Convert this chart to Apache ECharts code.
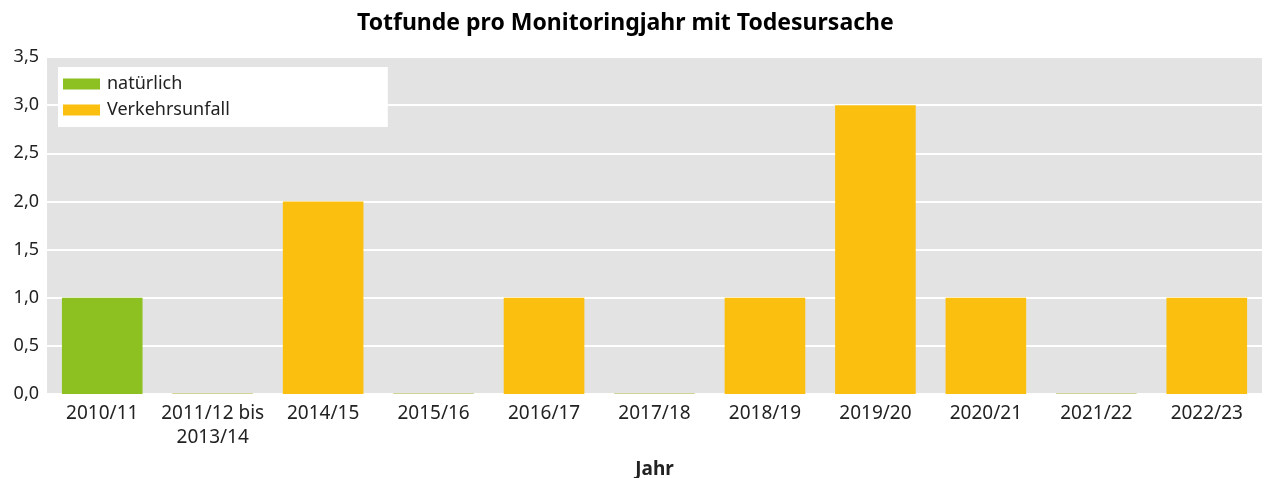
<!DOCTYPE html>
<html><head><meta charset="utf-8">
<script src="https://cdn.jsdelivr.net/npm/echarts@6/dist/echarts.min.js"></script>
<style>html,body{margin:0;padding:0;background:#fff}#c{width:1266px;height:478px}</style>
</head><body><div id="c"></div>
<script>
var categories = ['2010/11','2011/12 bis\n2013/14','2014/15','2015/16','2016/17','2017/18','2018/19','2019/20','2020/21','2021/22','2022/23'];
var natuerlich = [1,0,0,0,0,0,0,0,0,0,0];
var verkehrsunfall = [0,0,2,0,1,0,1,3,1,0,1];
var yTicks = [0,0.5,1,1.5,2,2.5,3,3.5];

var FONT = '"Noto Sans", sans-serif';
var natData = categories.map(function(c,i){
  if (natuerlich[i] > 0) return natuerlich[i];
  if (natuerlich[i] + verkehrsunfall[i] === 0) return {value:0, itemStyle:{color:'#d3d394'}};
  return null;
});
var verData = verkehrsunfall.map(function(v){ return v > 0 ? v : null; });

var chart = echarts.init(document.getElementById('c'));
chart.setOption({
  animation:false,
  title:{text:'Totfunde pro Monitoringjahr mit Todesursache', left:352, top:7,
    textStyle:{fontFamily:FONT, fontSize:23, fontWeight:'bold', color:'#000'}},
  legend:{orient:'vertical', left:58, top:67, backgroundColor:'#fff', borderRadius:0,
    padding:[8,158,8,5], itemGap:8, itemWidth:37, itemHeight:11,
    icon:'rect',
    textStyle:{fontFamily:FONT, fontSize:18, color:'#222', padding:[0,0,0,2]},
    data:['natürlich','Verkehrsunfall']},
  grid:{left:47, right:4, top:57, bottom:84, show:true, backgroundColor:'#e3e3e3', borderWidth:0,
    outerBoundsMode:'none', containLabel:false},
  xAxis:{type:'category', data:categories,
    axisLine:{show:true, lineStyle:{color:'#fff', width:2}}, axisTick:{show:false},
    axisLabel:{fontFamily:FONT, fontSize:19, color:'#222', margin:8, lineHeight:24, interval:0},
    name:'Jahr', nameLocation:'middle', nameGap:66,
    nameTextStyle:{fontFamily:FONT, fontSize:19, fontWeight:'bold', color:'#222'}},
  yAxis:{type:'value', min:yTicks[0], max:yTicks[yTicks.length-1], interval:0.5,
    axisLine:{show:false}, axisTick:{show:false},
    splitLine:{lineStyle:{color:'#fff', width:2}},
    axisLabel:{fontFamily:FONT, fontSize:18, color:'#222', margin:8,
      formatter:function(v){return v.toFixed(1).replace('.',',');}}},
  series:[
    {name:'natürlich', type:'bar', stack:'a', data:natData, barWidth:'73%', barMinHeight:1,
      itemStyle:{color:'#8dc021'}},
    {name:'Verkehrsunfall', type:'bar', stack:'a', data:verData, barWidth:'73%',
      itemStyle:{color:'#fbbf10'}}
  ]
});
</script></body></html>
